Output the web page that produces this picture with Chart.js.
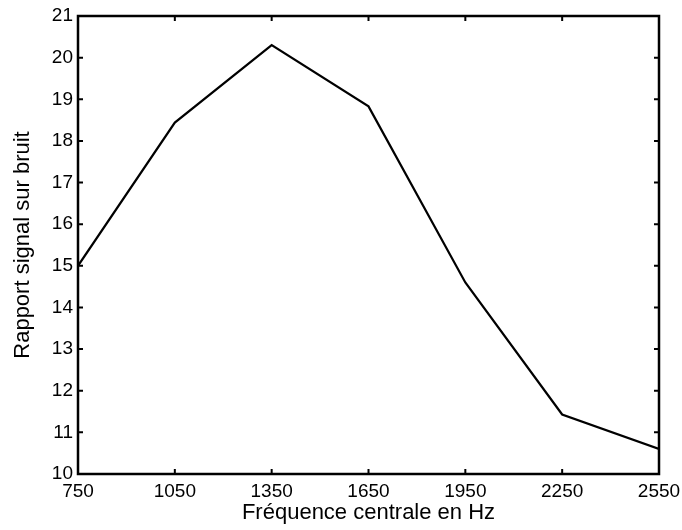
<!DOCTYPE html>
<html>
<head>
<meta charset="utf-8">
<title>Rapport signal sur bruit</title>
<script src="https://cdn.jsdelivr.net/npm/chart.js@4/dist/chart.umd.min.js"></script>
<style>
    html, body { margin: 0; padding: 0; background: #fff; }
    #wrap { width: 682px; height: 530px; }
</style>
</head>
<body>
<div id="wrap"><canvas id="snr-chart" width="682" height="530"></canvas></div>
<script>
// Data
const frequencies = [750, 1050, 1350, 1650, 1950, 2250, 2550];
const snrValues = [15.0, 18.44, 20.3, 18.83, 14.6, 11.43, 10.6];
const xTickValues = [750, 1050, 1350, 1650, 1950, 2250, 2550];
const yTickValues = [10, 11, 12, 13, 14, 15, 16, 17, 18, 19, 20, 21];

const fontFamily = "'Liberation Sans', Arial, Helvetica, sans-serif";

// Matlab style box with ticks pointing inwards
const boxPlugin = {
    id: 'boxPlugin',
    afterDraw(chart) {
        const ctx = chart.ctx;
        const area = chart.chartArea;
        const xScale = chart.scales.x;
        const yScale = chart.scales.y;
        const tickLen = 5;

        ctx.save();
        ctx.strokeStyle = '#000';
        ctx.lineWidth = 2;
        ctx.beginPath();
        xScale.ticks.forEach(t => {
            const px = xScale.getPixelForValue(t.value);
            ctx.moveTo(px, area.bottom);
            ctx.lineTo(px, area.bottom - tickLen);
            ctx.moveTo(px, area.top);
            ctx.lineTo(px, area.top + tickLen);
        });
        yScale.ticks.forEach(t => {
            const py = yScale.getPixelForValue(t.value);
            ctx.moveTo(area.left, py);
            ctx.lineTo(area.left + tickLen, py);
            ctx.moveTo(area.right, py);
            ctx.lineTo(area.right - tickLen, py);
        });
        ctx.stroke();

        ctx.lineWidth = 2.5;
        ctx.strokeRect(area.left, area.top, area.right - area.left, area.bottom - area.top);
        ctx.restore();
    }
};

document.addEventListener('DOMContentLoaded', function() {
    const ctx = document.getElementById('snr-chart').getContext('2d');

    new Chart(ctx, {
        type: 'line',
        data: {
            datasets: [{
                data: frequencies.map((f, i) => ({ x: f, y: snrValues[i] })),
                borderColor: '#000',
                borderWidth: 2.2,
                pointRadius: 0,
                tension: 0,
                fill: false
            }]
        },
        options: {
            responsive: false,
            animation: false,
            devicePixelRatio: 1,
            layout: {
                padding: { top: 16, right: 23, left: 0, bottom: 0 }
            },
            plugins: {
                legend: { display: false },
                tooltip: { enabled: false }
            },
            scales: {
                x: {
                    type: 'linear',
                    min: 750,
                    max: 2550,
                    afterBuildTicks: function(scale) {
                        scale.ticks = xTickValues.map(v => ({ value: v }));
                    },
                    afterFit: function(scale) {
                        scale.height = 56;
                        scale.paddingLeft = 0;
                        scale.paddingRight = 0;
                    },
                    grid: { display: false, drawTicks: false },
                    border: { display: false },
                    ticks: {
                        autoSkip: false,
                        maxRotation: 0,
                        padding: 6,
                        color: '#000',
                        font: { family: fontFamily, size: 19 },
                        callback: function(value) {
                            return String(value);
                        }
                    },
                    title: {
                        display: true,
                        text: 'Fréquence centrale en Hz',
                        color: '#000',
                        font: { family: fontFamily, size: 22 },
                        padding: { top: 0, bottom: 4 }
                    }
                },
                y: {
                    type: 'linear',
                    min: 10,
                    max: 21,
                    afterBuildTicks: function(scale) {
                        scale.ticks = yTickValues.map(v => ({ value: v }));
                    },
                    afterFit: function(scale) {
                        scale.width = 78;
                        scale.paddingTop = 0;
                        scale.paddingBottom = 0;
                    },
                    grid: { display: false, drawTicks: false },
                    border: { display: false },
                    ticks: {
                        autoSkip: false,
                        padding: 5,
                        color: '#000',
                        font: { family: fontFamily, size: 19 },
                        callback: function(value) {
                            return String(value);
                        }
                    },
                    title: {
                        display: true,
                        text: 'Rapport signal sur bruit',
                        color: '#000',
                        font: { family: fontFamily, size: 22 },
                        padding: { top: 10, bottom: 0 }
                    }
                }
            }
        },
        plugins: [boxPlugin]
    });
});
</script>
</body>
</html>
